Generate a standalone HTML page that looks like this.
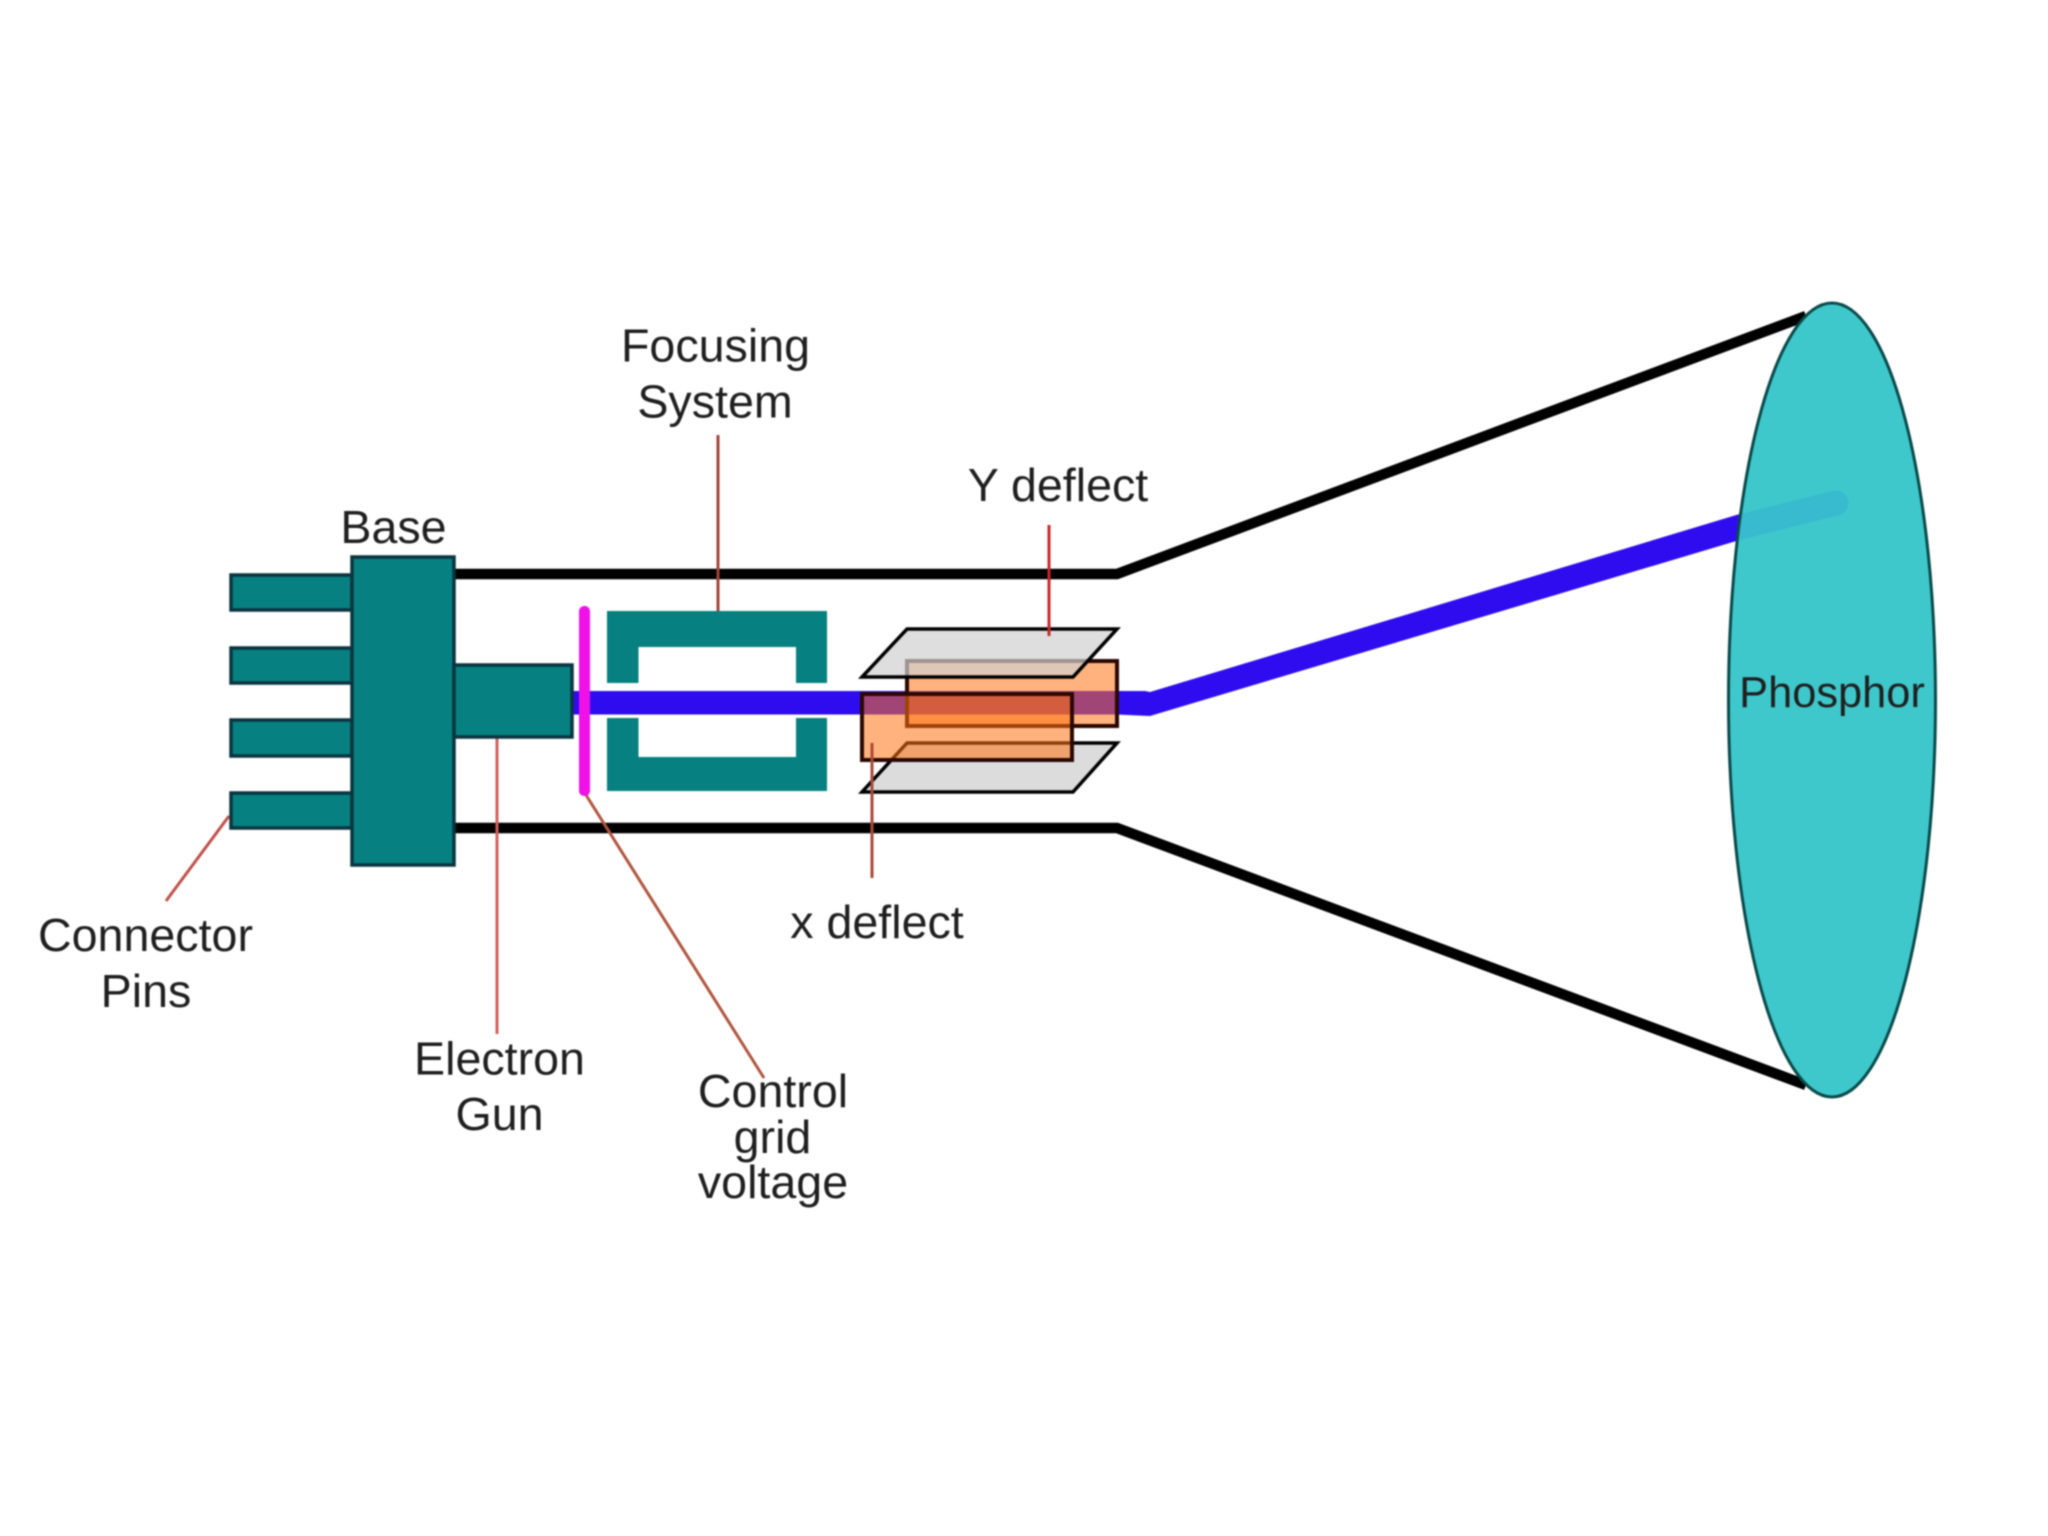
<!DOCTYPE html>
<html>
<head>
<meta charset="utf-8">
<style>
html,body{margin:0;padding:0;background:#fff;width:2048px;height:1536px;overflow:hidden}
svg{display:block;filter:blur(.7px)}
text{font-family:"Liberation Sans",Arial,sans-serif;font-size:46.6px;fill:#1f1f1f;text-anchor:middle}
</style>
</head>
<body>
<svg width="2048" height="1536" viewBox="0 0 2048 1536" xmlns="http://www.w3.org/2000/svg">
<defs><clipPath id="e"><ellipse cx="1832" cy="700" rx="102" ry="395"/></clipPath></defs>
<rect width="2048" height="1536" fill="#fff"/>
<!-- tube outline -->
<g fill="none" stroke="#000" stroke-width="10.5">
<polyline points="455,574 1117,574 1806,316"/>
<polyline points="455,828 1117,828 1806,1085"/>
</g>
<!-- leaders behind -->
<g fill="none" stroke="#b5473f" stroke-width="3">
<line x1="718" y1="435" x2="718" y2="611" stroke="#a0453c"/>
<line x1="497" y1="737" x2="497" y2="1034" stroke="#d0605c"/>
<line x1="586" y1="795" x2="764" y2="1078" stroke="#b0553f"/>
<line x1="229" y1="816" x2="166" y2="901" stroke="#c0504a"/>
</g>
<!-- focusing system -->
<path d="M607,611H827V683H796V647H638.5V683H607Z" fill="#068080"/>
<path d="M607,718H638.5V757H796V718H827V791H607Z" fill="#068080"/>
<!-- beam -->
<polygon points="573,691 1117,691 1145,691 1150,692 1743,513 1743,539 1150,716 1117,714.5 573,714.5" fill="#2f0cf0"/>
<!-- pins -->
<g fill="#068080" stroke="#0a3540" stroke-width="3.5">
<rect x="231" y="575" width="121" height="35"/>
<rect x="231" y="648" width="121" height="35"/>
<rect x="231" y="720" width="121" height="36"/>
<rect x="231" y="793" width="121" height="35"/>
<rect x="352" y="557" width="102" height="308"/>
<rect x="454" y="665" width="118" height="72"/>
</g>
<!-- control grid -->
<rect x="579" y="606" width="11" height="190" rx="5" fill="#f010e8"/>
<!-- deflection plates -->
<polygon points="907,743 1117,743 1073,792 862,792" fill="#dcdcdc" stroke="#000" stroke-width="3.5"/>
<rect x="907" y="661" width="210" height="65" fill="#ff7312" fill-opacity=".55" stroke="#2a0800" stroke-width="4"/>
<polygon points="907,629 1117,629 1073,677 862,677" fill="#d0d0d0" fill-opacity=".7" stroke="#000" stroke-width="3.5"/>
<rect x="862" y="694" width="210" height="66" fill="#ff7312" fill-opacity=".55" stroke="#2a0800" stroke-width="4"/>
<line x1="1049" y1="525" x2="1049" y2="636" stroke="#c8282a" stroke-width="3"/>
<line x1="872" y1="743" x2="872" y2="878" stroke="#a84a3a" stroke-width="3"/>
<!-- phosphor -->
<ellipse cx="1832" cy="700" rx="103.5" ry="397" fill="#3ec8cc" stroke="#0a4a4a" stroke-width="3"/>
<line x1="1720" y1="532" x2="1836" y2="503" stroke="#38bacf" stroke-width="25" stroke-linecap="round" clip-path="url(#e)"/>
<!-- labels -->
<text x="715.5" y="361.5">Focusing</text>
<text x="715" y="417.5">System</text>
<text x="393.5" y="543">Base</text>
<text x="1058" y="501">Y deflect</text>
<text x="877" y="938">x deflect</text>
<text x="145.5" y="951">Connector</text>
<text x="146" y="1007">Pins</text>
<text x="499.5" y="1074.5">Electron</text>
<text x="499.5" y="1130">Gun</text>
<text x="773" y="1107">Control</text>
<text x="772.5" y="1153">grid</text>
<text x="773" y="1198">voltage</text>
<text x="1832" y="707" style="font-size:43.4px">Phosphor</text>
</svg>
</body>
</html>
